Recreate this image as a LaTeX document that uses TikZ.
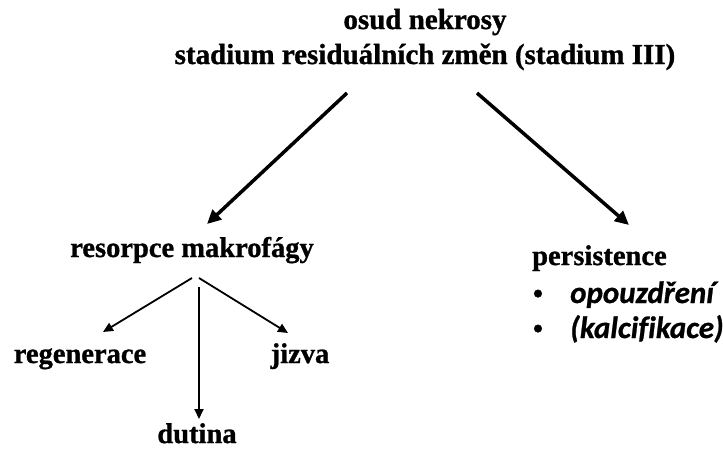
\documentclass[tikz,border=0pt]{standalone}
\usepackage{fontspec}
\newfontfamily\serifB{Liberation Serif}[BoldFeatures={FakeBold=1}]
\newfontfamily\sansBI{Carlito}[Ligatures=NoCommon, BoldItalicFeatures={FakeBold=0.8}]
\newcommand{\ttlfont}{\serifB\bfseries\fontsize{29}{31}\selectfont}
\newcommand{\lblfont}{\serifB\bfseries\fontsize{28.5}{30}\selectfont}
\newcommand{\itmfont}{\sansBI\bfseries\itshape\fontsize{31}{33}\selectfont}
\usetikzlibrary{arrows.meta}
\begin{document}
\begin{tikzpicture}[x=1pt,y=-1pt,
  lbl/.style={inner sep=0pt, anchor=base},
  lblleft/.style={inner sep=0pt, anchor=base west},
  itm/.style={inner sep=0pt, anchor=base west},
  bigarrow/.style={line width=3.5pt, -{Triangle[length=14pt,width=13pt]}},
  smallarrow/.style={line width=1.8pt, -{Triangle[length=10pt,width=9pt]}}]
\useasboundingbox (0,0) rectangle (723,448);
\node[lbl] (t1) at (425,29) {\ttlfont osud nekrosy};
\node[lbl] (t2) at (425,64) {\ttlfont stadium residuálních změn (stadium III)};
\node[lbl] (res) at (192,257) {\lblfont resorpce makrofágy};
\node[lblleft] (per) at (532,265) {\lblfont persistence};
\node[lbl] (b1) at (538,303) {\lblfont •};
\node[lbl] (b2) at (538,338) {\lblfont •};
\node[itm] (op) at (570,303) {\itmfont opouzdření};
\node[itm] (kal) at (570,338) {\itmfont (kalcifikace)};
\node[lbl] (reg) at (80,363) {\lblfont regenerace};
\node[lbl] (jiz) at (300,363) {\lblfont jizva};
\node[lbl] (dut) at (197,443) {\lblfont dutina};
\coordinate (sL) at (347,93);
\coordinate (eL) at (207,224);
\coordinate (sR) at (477,93);
\coordinate (eR) at (629,225);
\coordinate (s1) at (192,278);
\coordinate (e1) at (103,332);
\coordinate (s2) at (199,287);
\coordinate (e2) at (199,419);
\coordinate (s3) at (199,278);
\coordinate (e3) at (288,333);
\draw[bigarrow] (sL) -- (eL);
\draw[bigarrow] (sR) -- (eR);
\draw[smallarrow] (s1) -- (e1);
\draw[smallarrow] (s2) -- (e2);
\draw[smallarrow] (s3) -- (e3);
\end{tikzpicture}
\end{document}
